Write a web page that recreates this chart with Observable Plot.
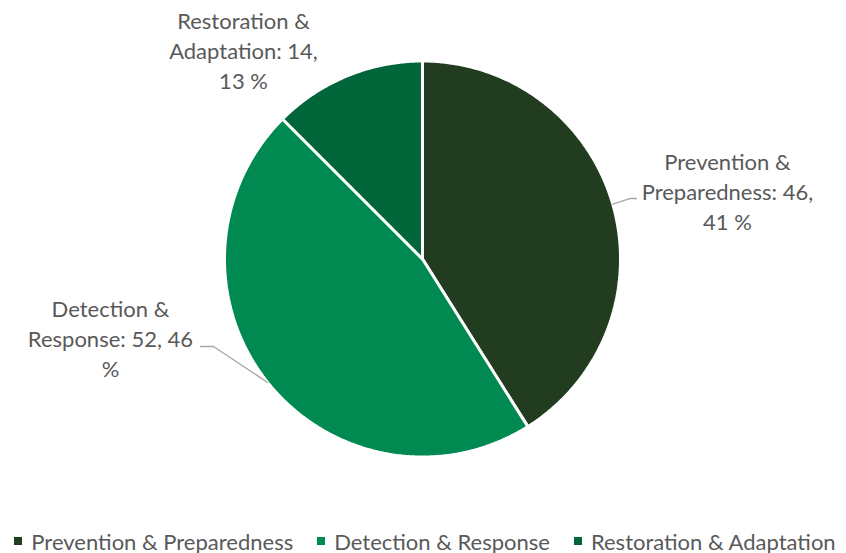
<!DOCTYPE html>
<html><head><meta charset="utf-8">
<script src="https://cdn.jsdelivr.net/npm/d3@7"></script>
<script src="https://cdn.jsdelivr.net/npm/@observablehq/plot@0.6"></script>
<style>
html,body{margin:0;padding:0;background:#fff;}
#chart svg{display:block;}
#legend{display:flex;justify-content:center;align-items:center;gap:24px;height:30px;color:#595959;font-family:Lato,sans-serif;font-size:22px;width:846px;padding-left:4px;box-sizing:border-box;}
#legend .it{display:flex;align-items:center;white-space:nowrap;}
#legend .sw{width:8px;height:8px;margin-right:9px;display:inline-block;}
</style></head><body>
<div id="chart"></div>
<div id="legend"></div>
<script>
// ---- data ----
const categories = ["Prevention & Preparedness", "Detection & Response", "Restoration & Adaptation"];
const values = [46, 52, 14];
const colors = ["#213c1e", "#008a51", "#006539"];
const total = d3.sum(values);
const percents = values.map(v => Math.round(v / total * 100));
const labelTexts = [
  `Prevention &\nPreparedness: ${values[0]},\n${percents[0]} %`,
  `Detection &\nResponse: ${values[1]}, ${percents[1]}\n%`,
  `Restoration &\nAdaptation: ${values[2]},\n${percents[2]} %`
];

// ---- layout (unit circle coordinates) ----
const W = 846, H = 526, cx = 422, cy = 258.5, R = 198;
const labelPos = [[1.540, 0.345], [-1.576, -0.396], [-0.904, 1.058]];
const leaderBends = [[[1.0505, 0.3056], [1.0808, 0.3056]], [[-1.0556, -0.4419], [-1.1212, -0.4419]], null];

// pie angles: start at 12 o'clock, clockwise
const pie = d3.pie().sort(null).value(d => d)(values);
const slicePts = [];
pie.forEach((p, i) => {
  slicePts.push({cat: categories[i], x: 0, y: 0, k: 0});
  const steps = Math.max(2, Math.ceil((p.endAngle - p.startAngle) / (Math.PI / 360)));
  for (let s = 0; s <= steps; s++) {
    const a = p.startAngle + (p.endAngle - p.startAngle) * s / steps;
    slicePts.push({cat: categories[i], x: Math.sin(a), y: Math.cos(a), k: s + 1});
  }
  slicePts.push({cat: categories[i], x: 0, y: 0, k: steps + 2});
});

const leaders = [];
pie.forEach((p, i) => {
  if (!leaderBends[i]) return;
  const m = (p.startAngle + p.endAngle) / 2;
  leaders.push({cat: categories[i], x: Math.sin(m), y: Math.cos(m)});
  leaderBends[i].forEach(([x, y]) => leaders.push({cat: categories[i], x, y}));
});

const labels = categories.map((c, i) => ({cat: c, text: labelTexts[i], x: labelPos[i][0], y: labelPos[i][1]}));

const chart = Plot.plot({
  width: W, height: H,
  margin: 0,
  x: {domain: [-cx / R, (W - cx) / R], axis: null},
  y: {domain: [-(H - cy) / R, cy / R], axis: null},
  color: {domain: categories, range: colors},
  style: {fontFamily: "Lato, sans-serif", background: "#fff"},
  marks: [
    Plot.line(slicePts, {x: "x", y: "y", z: "cat", fill: "cat", stroke: "#fff", strokeWidth: 3, strokeLinejoin: "miter", curve: "linear"}),
    Plot.line(leaders, {x: "x", y: "y", z: "cat", stroke: "#a6a6a6", strokeWidth: 1.3}),
    Plot.text(labels, {x: "x", y: "y", text: "text", fill: "#595959", fontSize: 22, lineHeight: 1.36, textAnchor: "middle"})
  ]
});
document.getElementById("chart").appendChild(chart);

const leg = document.getElementById("legend");
categories.forEach((c, i) => {
  const it = document.createElement("span");
  it.className = "it";
  const sw = document.createElement("span");
  sw.className = "sw";
  sw.style.background = colors[i];
  it.appendChild(sw);
  it.appendChild(document.createTextNode(c));
  leg.appendChild(it);
});
</script>
</body></html>
